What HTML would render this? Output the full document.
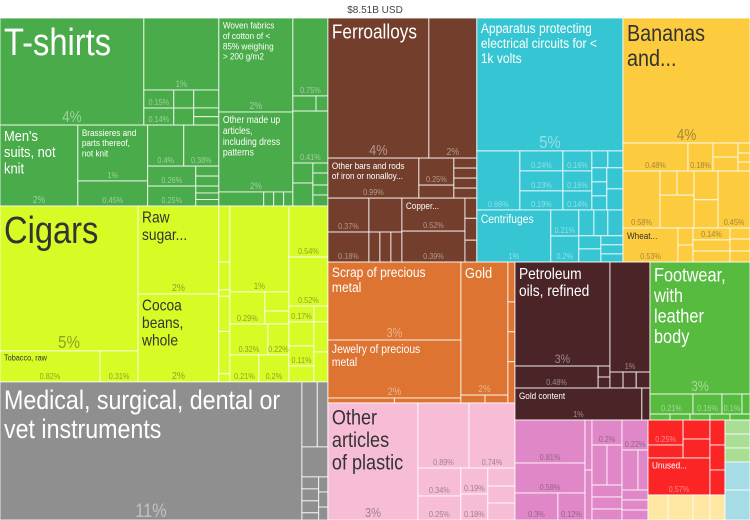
<!DOCTYPE html>
<html><head><meta charset="utf-8"><style>
html,body{margin:0;padding:0;background:#fff}
svg{display:block}
text{font-family:"Liberation Sans",sans-serif}
</style></head><body>
<svg id="chart" width="750" height="520" viewBox="0 0 750 520" xmlns="http://www.w3.org/2000/svg">
<text x="375" y="13" font-size="10" fill="#444" text-anchor="middle">$8.51B USD</text>
<g id="marks"></g>
</svg>
<script>
const L=(v,p,n)=>({v:v,p:p||'',n:n||''});
const H=(...c)=>({d:'h',c:c});
const V=(...c)=>({d:'v',c:c});
const G=(col,tc,node)=>{node.col=col;node.tc=tc;return node;};

const tree = H(
 V(
  G('#4aab4a','#fff', H(
    V(
      H(L(154,'4%','T-shirts'), V(L(54,'1%'), H(V(L(5.4,'0.15%'),L(5.1,'0.14%')), V(L(3.6),L(3.4)), V(L(4.5),L(2.2),L(2.1))))),
      H(L(63,'2%',"Men's|suits, not|knit"), V(L(39,'1%','Brassieres and|parts thereof,|not knit'),L(17.5,'0.45%')), V(H(L(14.8,'0.4%'),L(14.4,'0.38%')), H(L(9.6,'0.26%'),V(L(2.3),L(2.3))), H(L(9.6,'0.25%'),V(L(1.6),L(1.5),L(1.5)))))
    ),
    H(
      V(L(69.6,'2%','Woven fabrics|of cotton of <|85% weighing|> 200 g/m2'), L(59.2,'2%','Other made up|articles,|including dress|patterns'), H(L(6.3),L(1.4),L(1.4),L(1.3))),
      V(L(27.3,'0.75%'), H(L(3.5),L(1.8)), L(18.2,'0.41%'), H(V(L(4),L(4.6)), V(L(1.5),L(1.8),L(1.5),L(1.65))))
    )
  )),
  G('#d7fb24','#333', H(
    V(L(200,'5%','Cigars'), H(L(31,'0.82%','Tobacco, raw'), L(11.8,'0.31%'))),
    V(L(71,'2%','Raw|sugar...'), L(71,'2%','Cocoa|beans,|whole')),
    V(L(6.2),L(3.1),L(0.7),L(3.9),L(4.7),L(0.9)),
    V(L(50.7,'1%'), H(L(11.2,'0.29%'), V(L(4.6),L(3.1))), H(L(11.8,'0.32%'),L(6.5,'0.22%')), H(L(7.8,'0.21%'),L(8.1,'0.2%'))),
    V(L(19.9,'0.54%'), L(19.1,'0.52%'), H(L(4,'0.17%'),L(2.2)), H(V(L(6),L(5,'0.11%'),L(4)), V(L(4.2),L(4.2))))
  )),
  G('#8f8f8f','#fff', H(L(416.8,'11%','Medical, surgical, dental or|vet instruments'), V(H(L(10),L(6.9)), L(7.8), H(V(L(2),L(2),L(2),L(1.2)), V(L(1.4),L(1.4),L(1.2))))))
 ),
 V(
  H(
   G('#733e2b','#fff', V(
     H(L(141.4,'4%','Ferroalloys'), L(67.2,'2%')),
     H(L(36.4,'0.99%','Other bars and rods|of iron or nonalloy...'), V(L(9.45,'0.25%'),L(4.55)), V(L(2.3),L(2.3),L(2.3),L(2.3))),
     H(V(L(13.9,'0.37%'),L(12.3,'0.18%')), V(L(11.2),H(L(3.3),L(3.3),L(3.3))), V(L(20.8,'0.52%','Copper...'),L(19.5,'0.39%')), V(L(2.4),L(2.6),L(2.6)))
   )),
   G('#36c6d3','#fff', V(
     L(194.2,'5%','Apparatus protecting|electrical circuits for <|1k volts'),
     H(L(25.4,'0.66%'), V(L(8.6,'0.24%'),L(8.6,'0.23%'),L(8.2,'0.19%')), V(L(5.8,'0.16%'),L(5.8,'0.16%'),L(5.5,'0.14%')), V(H(L(2.7),L(2.55)), H(V(L(2.1),L(2.1),L(2.1)),V(L(3.4),L(3.4))))),
     H(L(38.5,'1%','Centrifuges'), V(L(7.3,'0.21%'),L(7.3,'0.2%')), V(H(L(3.9),L(3.6),L(3.9)), H(V(L(2.9),L(2.9)), V(L(2),L(2),L(1.8)))))
   )),
   G('#fdcb3e','#333', V(
     L(158.8,'4%','Bananas|and...'),
     H(L(18.2,'0.48%'),L(7,'0.18%'),V(L(3.5),L(3.5)),V(L(1.2),L(1.08),L(1.08))),
     H(L(21.1,'0.58%'), V(H(L(4.1),L(4.1)),L(11.2)), V(L(6.9),L(6.8)), L(18.2,'0.45%')),
     H(L(18.7,'0.53%','Wheat...'), V(L(2.55),L(2.55)), V(L(4.4,'0.14%'),L(4.1),L(4.1)), V(L(2.2),L(2.4),L(2.2)))
   ))
  ),
  H(
   V(
    G('#dd7432','#fff', H(
      V(L(103.7,'3%','Scrap of precious|metal'), L(77.1,'2%','Jewelry of precious|metal'), H(L(3.3),L(3.3))),
      V(L(62.5,'2%','Gold'), H(L(1.9),L(1.8))),
      V(L(2.8),L(2.1),L(2.1),L(2.9))
    )),
    G('#f7bdd6','#333', H(
      L(105.3,'3%','Other|articles|of plastic'),
      V(H(L(33.2,'0.89%'),L(29.9,'0.74%')), H(V(L(12,'0.34%'),L(10.3,'0.25%')), V(L(7,'0.19%'),L(7,'0.18%')), V(L(4.9),L(4.6),L(4.6))))
    ))
   ),
   V(
    H(
     G('#4b2428','#fff', V(
       H(V(L(98.8,'3%','Petroleum|oils, refined'), H(L(18.3,'0.48%'),V(L(1.3),L(1.3)))), V(L(44,'1%'), H(L(2.1),L(2.1),L(2.2)))),
       H(L(40.6,'1%','Gold content'), L(2.6))
     )),
     G('#57bb3f','#fff', V(
       L(132,'3%','Footwear,|with|leather|body'),
       H(L(8.6,'0.21%'),L(5.8,'0.16%'),L(4,'0.1%'),L(1.6)),
       H(L(1.2),L(1.2),L(1.2),L(1.2),L(1.2))
     ))
    ),
    H(
     G('#e088c7','#333', H(
       V(L(30.1,'0.81%'),L(21,'0.58%'),H(L(11.6,'0.3%'),L(7.3,'0.12%'))),
       V(L(3.5),L(3.5)),
       V(L(7.5,'0.2%'), H(L(6),L(6)), V(L(3.6),L(3.6),L(3.3))),
       V(L(7.8,'0.22%'), H(L(6.4),L(4)), V(L(2.6),L(2.6),L(2.6)))
     )),
     V(
      G('#fb2526','#fff', H(V(H(V(L(8.75,'0.25%'),L(4.55)), V(L(5.1),L(5.1))), L(22.9,'0.57%','Unused...')), V(L(3.75),L(3.75),L(3.75)))),
      G('#fde7a2','#333', H(L(5),L(6.25),L(4.25),L(3.75)))
     ),
     V(G('#a9de94','#333', V(L(3.5),L(3.5),L(3.5))), G('#a5dce6','#333', V(L(7),L(7.5))))
    )
   )
  )
 )
);

const labelSize = {
 'T-shirts':38,'Cigars':38,'Medical, surgical, dental or|vet instruments':27,'Ferroalloys':20,
 'Apparatus protecting|electrical circuits for <|1k volts':14,'Bananas|and...':23,
 'Scrap of precious|metal':14,'Jewelry of precious|metal':12,'Gold':15,'Petroleum|oils, refined':16,
 'Footwear,|with|leather|body':19,'Other|articles|of plastic':21,"Men's|suits, not|knit":15,
 'Raw|sugar...':16,'Cocoa|beans,|whole':16,'Brassieres and|parts thereof,|not knit':9.5,
 'Woven fabrics|of cotton of <|85% weighing|> 200 g/m2':9.5,'Other made up|articles,|including dress|patterns':10,
 'Other bars and rods|of iron or nonalloy...':9.5,'Copper...':9.5,'Centrifuges':12,'Wheat...':9.5,
 'Tobacco, raw':8.5,'Gold content':9.5,'Unused...':9.5
};

const NS='http://www.w3.org/2000/svg';
const marks=document.getElementById('marks');
function sum(n){ if(n.c){ n.v=n.c.reduce((a,k)=>a+sum(k),0);} return n.v; }
sum(tree);
function slug(s){return s.split('|')[0].toLowerCase().replace(/[^a-z0-9]+/g,'-').replace(/^-|-$/g,'');}
let idx=0;
function draw(n,x,y,w,h,col,tc){
  col=n.col||col; tc=n.tc||tc;
  if(n.c){
    let off=0;
    n.c.forEach(k=>{
      const f=k.v/n.v;
      if(n.d==='h'){ draw(k,x+off,y,w*f,h,col,tc); off+=w*f; }
      else { draw(k,x,y+off,w,h*f,col,tc); off+=h*f; }
    });
    return;
  }
  idx++;
  const g=document.createElementNS(NS,'g');
  
  
  const r=document.createElementNS(NS,'rect');
  r.setAttribute('x',x);r.setAttribute('y',y);r.setAttribute('width',w);r.setAttribute('height',h);
  r.setAttribute('fill',col);r.setAttribute('stroke','rgba(255,255,255,0.8)');r.setAttribute('stroke-width','1');
  
  
  g.appendChild(r);
  if(n.n){
    const fs=labelSize[n.n]||9;
    n.n.split('|').forEach((ln,i)=>{
      const t=document.createElementNS(NS,'text');
      
      
      t.setAttribute('font-size',fs);t.setAttribute('fill',tc);
      t.setAttribute('transform','translate('+(x+4)+','+(y+2+fs*0.92+i*fs*1.08)+') scale(0.86,1)');
      t.textContent=ln; g.appendChild(t);
    });
  }
  if(n.p && w>=16 && h>=11){
    let fp=Math.max(8.5,Math.min(19,Math.sqrt(w*h)/8));
    while(fp>7 && n.p.length*fp*0.5*0.86>w-2) fp-=0.5;
    if(n.p.length*fp*0.5*0.86<=w-1){
      const t=document.createElementNS(NS,'text');
      
      
      t.setAttribute('font-size',fp);t.setAttribute('fill',tc);t.setAttribute('fill-opacity','0.45');
      t.setAttribute('text-anchor','middle');
      t.setAttribute('transform','translate('+(x+w/2)+','+(y+h-3)+') scale(0.86,1)');
      t.textContent=n.p; g.appendChild(t);
    }
  }
  marks.appendChild(g);
}
draw(tree,0,18,750,502,'#ccc','#fff');
</script>
</body></html>
